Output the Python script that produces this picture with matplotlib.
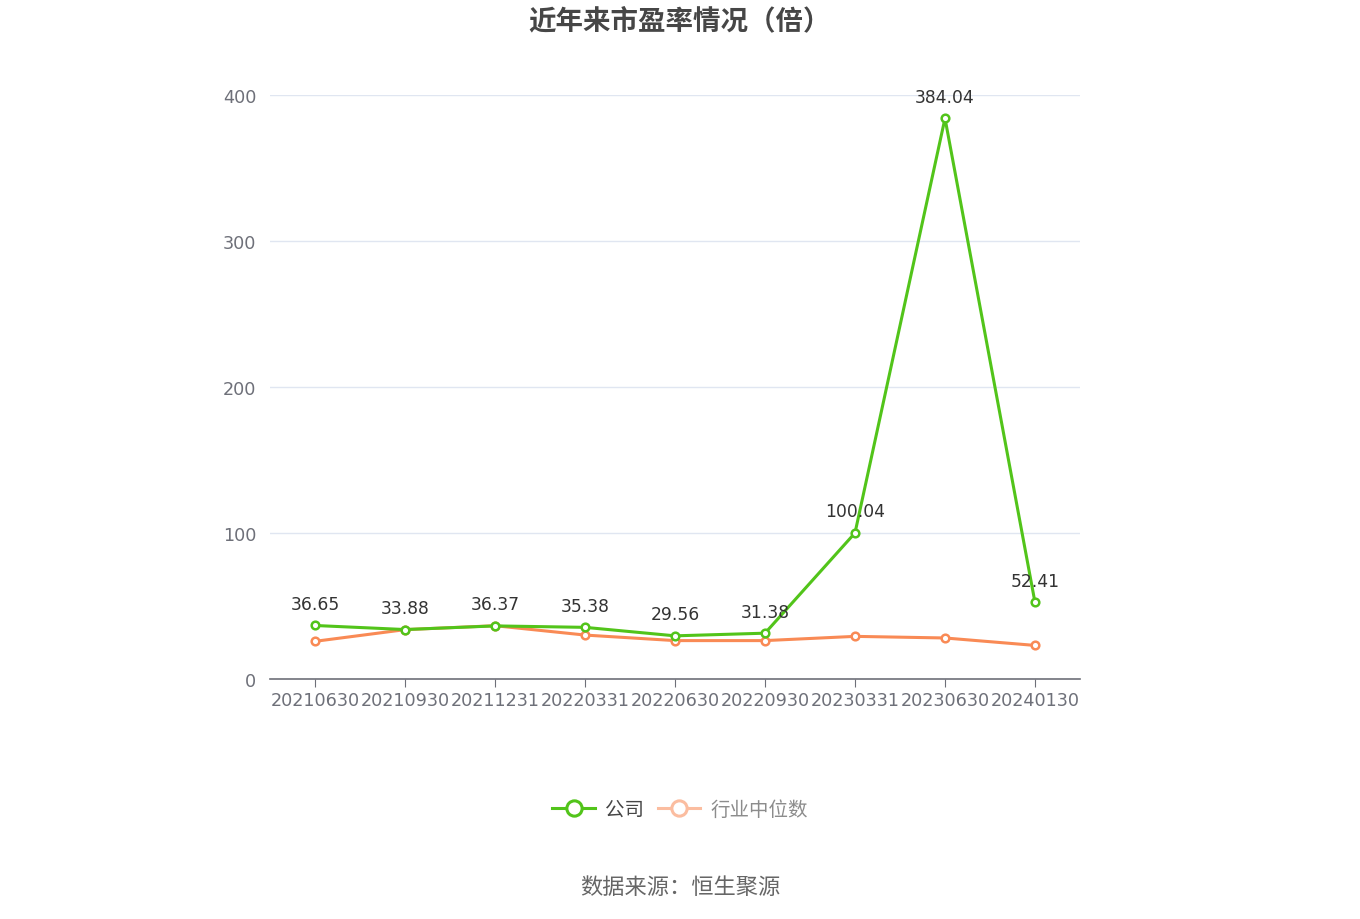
import matplotlib
matplotlib.use("Agg")
import matplotlib.pyplot as plt
from matplotlib.lines import Line2D

plt.rcParams["font.family"] = ["Noto Sans CJK SC", "DejaVu Sans"]

dates = ["20210630", "20210930", "20211231", "20220331", "20220630",
         "20220930", "20230331", "20230630", "20240130"]
company_pe = [36.65, 33.88, 36.37, 35.38, 29.56, 31.38, 100.04, 384.04, 52.41]
industry_pe = [25.8, 33.8, 36.5, 30.1, 26.3, 26.3, 29.2, 28.1, 23.0]
y_ticks = [0, 100, 200, 300, 400]

C_COMPANY = "#52C41A"
C_INDUSTRY = "#F98A55"
C_AXIS = "#6E7079"
C_GRID = "#E0E6F1"
NUM_FONT = "DejaVu Sans"

fig = plt.figure(figsize=(13.6, 9.2), dpi=100)
ax = fig.add_axes([270 / 1360, 240 / 920, 810 / 1360, 584 / 920])

x = list(range(len(dates)))
ax.plot(x, industry_pe, color=C_INDUSTRY, lw=2.2, marker="o", ms=5.5,
        mfc="white", mec=C_INDUSTRY, mew=1.8, zorder=3)
ax.plot(x, company_pe, color=C_COMPANY, lw=2.2, marker="o", ms=5.5,
        mfc="white", mec=C_COMPANY, mew=1.8, zorder=4)

for xi, v in zip(x, company_pe):
    ax.annotate(f"{v:.2f}", (xi, v), xytext=(0, 9), textcoords="offset points",
                ha="center", va="bottom", fontsize=12.3, color="#333333",
                family=NUM_FONT, zorder=5)

ax.set_xlim(-0.5, len(dates) - 0.5)
ax.set_ylim(0, 400)
ax.set_yticks(y_ticks)
ax.set_xticks(x)
ax.set_xticklabels(dates)

ax.grid(True, axis="y", color=C_GRID, lw=1, zorder=0)
for side in ("top", "right", "left"):
    ax.spines[side].set_visible(False)
ax.spines["bottom"].set_color(C_AXIS)
ax.spines["bottom"].set_linewidth(1.2)
ax.tick_params(axis="y", length=0, pad=10, labelsize=12.7, labelcolor=C_AXIS)
ax.tick_params(axis="x", length=6, color=C_AXIS, pad=3,
               labelsize=12.7, labelcolor=C_AXIS)
for lbl in ax.get_xticklabels() + ax.get_yticklabels():
    lbl.set_family(NUM_FONT)

fig.text(0.5, 1 - 21 / 920, "近年来市盈率情况（倍）", ha="center", va="center",
         fontsize=19.8, fontweight="bold", color="#464646")

handles = [
    Line2D([0], [0], color=C_COMPANY, lw=2.2, marker="o", ms=11, mfc="white",
           mec=C_COMPANY, mew=2.2, label="公司"),
    Line2D([0], [0], color="#FBBDA0", lw=2.2, marker="o", ms=11, mfc="white",
           mec="#FBBDA0", mew=2.2, label="行业中位数"),
]
leg = fig.legend(handles=handles, loc="center", bbox_to_anchor=(0.5, 1 - 810 / 920),
                 ncol=2, frameon=False, fontsize=14, handlelength=2.2,
                 columnspacing=0.7, handletextpad=0.5)
leg.get_texts()[0].set_color("#464646")
leg.get_texts()[1].set_color("#8C8C8C")

fig.text(0.5, 1 - 888 / 920, "数据来源：恒生聚源", ha="center", va="center",
         fontsize=16, color="#666666")

fig.savefig("out.png", dpi=100)
